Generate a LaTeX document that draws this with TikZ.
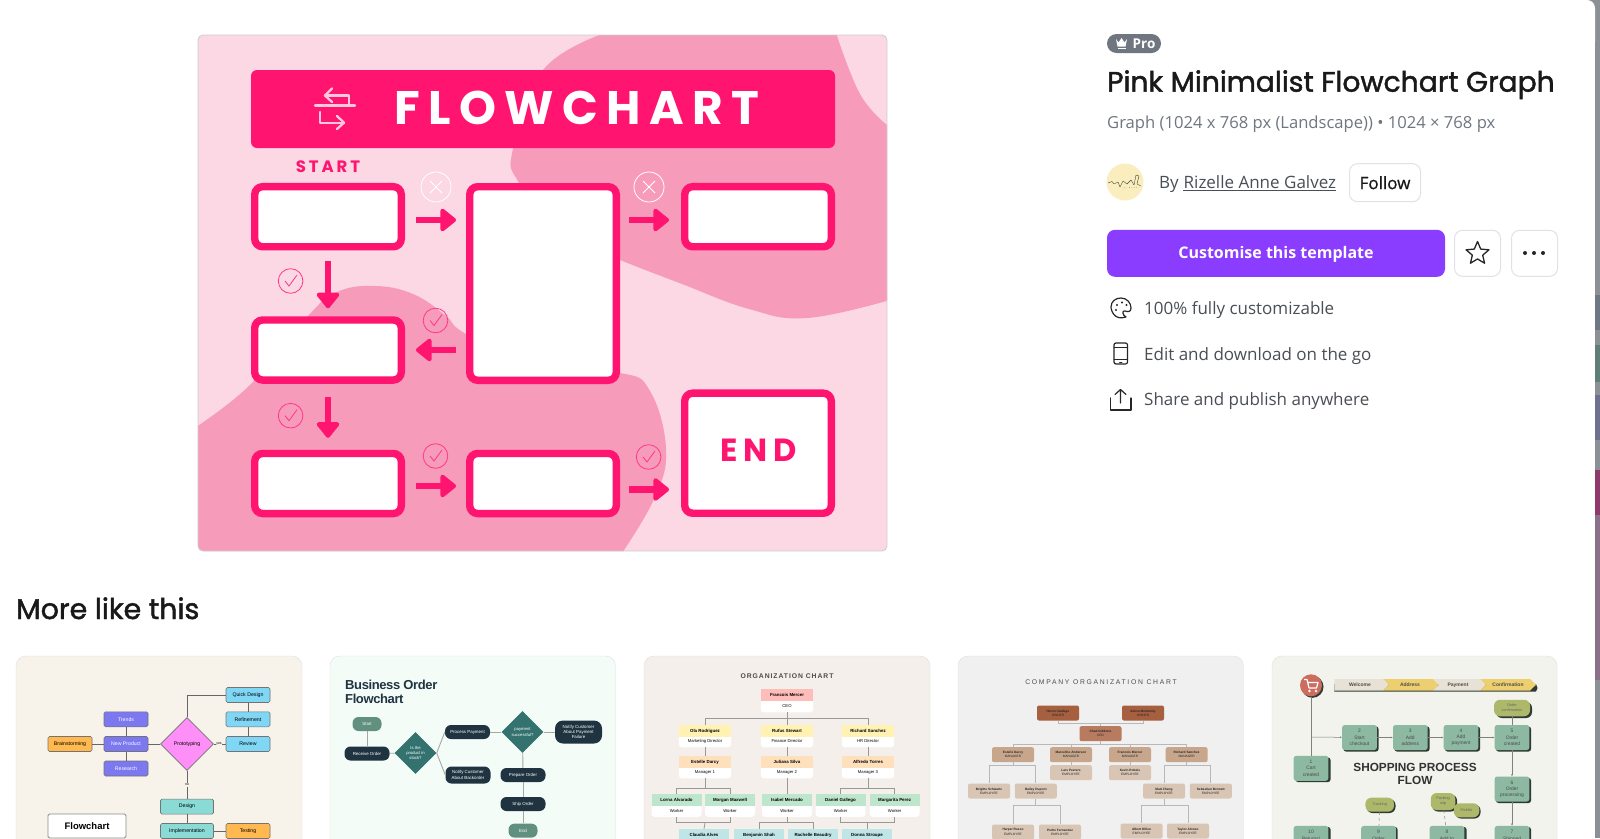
\documentclass[tikz,border=0pt]{standalone}
\usepackage{fontspec}
\setmainfont{Open Sans}
\newfontfamily\popfont{Poppins}
\newfontfamily\libfont{Liberation Sans}
\usetikzlibrary{arrows.meta}
\usetikzlibrary{shapes.geometric}
\usetikzlibrary{calc}
\usetikzlibrary{positioning}

\definecolor{hotpink}{HTML}{FF1470}
\definecolor{blobpink}{HTML}{F79BBB}
\definecolor{palepink}{HTML}{FCD7E4}
\definecolor{iconpink}{HTML}{FFC8DC}
\definecolor{uigray}{HTML}{6F7680}
\definecolor{uidark}{HTML}{4A4F55}
\definecolor{uiline}{HTML}{E0E2E5}
\definecolor{uipurple}{HTML}{8B3DFF}
\definecolor{darkslate}{HTML}{1F3440}
\definecolor{sagegreen}{HTML}{629080}
\definecolor{deepteal}{HTML}{33726F}
\definecolor{mossbox}{HTML}{8DB8A2}
\definecolor{mosspill}{HTML}{AEB86A}
\definecolor{mossdark}{HTML}{2E3B35}
\definecolor{cardpurple}{HTML}{7B78F0}
\definecolor{cardcyan}{HTML}{7FD6F5}
\definecolor{cardorange}{HTML}{FFB950}
\definecolor{cardmint}{HTML}{8ADBD5}
\definecolor{cardviolet}{HTML}{FF8FF8}
\definecolor{orgred}{HTML}{FFBDBA}
\definecolor{orgyellow}{HTML}{FFF2B3}
\definecolor{orgorange}{HTML}{FFE0BC}
\definecolor{orggreen}{HTML}{BEE6CC}
\definecolor{orgblue}{HTML}{BFE5E6}
\definecolor{brownone}{HTML}{A65F3F}
\definecolor{browntwo}{HTML}{B97B60}
\definecolor{brownthree}{HTML}{C8A68C}
\definecolor{brownfour}{HTML}{D9C5B3}
\definecolor{chevbeige}{HTML}{E8E2D6}
\definecolor{chevyellow}{HTML}{EECF70}
\definecolor{cardcream}{HTML}{F8F3EA}
\definecolor{cardmintbg}{HTML}{F4FCF8}
\definecolor{cardsand}{HTML}{F4EFEA}
\definecolor{cardgray}{HTML}{F0F0F0}
\definecolor{cardmoss}{HTML}{F1F3EC}
\definecolor{avataryellow}{HTML}{FBEEBE}
\definecolor{cartred}{HTML}{CC6D5F}
\definecolor{barbase}{HTML}{8A9094}
\definecolor{barslate}{HTML}{6E7885}
\definecolor{bargreen}{HTML}{5F7F76}
\definecolor{barviolet}{HTML}{6F6F90}
\definecolor{barmagenta}{HTML}{8F3A6D}
\definecolor{barmauve}{HTML}{8C6F88}

\tikzset{
	flowbox/.style={draw=hotpink, line width=7.4pt, fill=white, rounded corners=8pt, inner sep=0pt, minimum width=146.6pt, minimum height=60.1pt},
	flowarrow/.style={draw=hotpink, line width=6.5pt, -{Triangle[length=17pt,width=26pt,round]}},
	crossring/.style={draw=white, line width=0.8pt},
	checkring/.style={draw=hotpink!85, line width=0.8pt},
	uibutton/.style={draw=uiline, line width=1pt, fill=white, rounded corners=8pt, inner sep=0pt},
	uitext/.style={anchor=base west, inner sep=0pt, text=uidark, font=\fontsize{17}{20}\selectfont},
	icon/.style={draw=black!85, line width=1.2pt, line join=round, line cap=round},
	bannericon/.style={draw=iconpink, line width=2.3pt, line join=round, line cap=round},
	tinybox/.style={draw=black!55, line width=0.6pt, rounded corners=1.5pt, inner sep=0pt, minimum width=44pt, minimum height=15pt, font=\libfont\fontsize{5.2}{6}\selectfont},
	purplebox/.style={tinybox, fill=cardpurple, text=white},
	cyanbox/.style={tinybox, fill=cardcyan},
	orangebox/.style={tinybox, fill=cardorange},
	mintbox/.style={tinybox, fill=cardmint, minimum width=53pt},
	cardline/.style={draw=black!60, line width=0.6pt},
	slatepill/.style={fill=darkslate, text=white, rounded corners=6pt, inner sep=0pt, minimum width=45pt, minimum height=14pt, align=center, font=\libfont\fontsize{4.4}{5.4}\selectfont},
	sagepill/.style={slatepill, fill=sagegreen, minimum width=29pt},
	tealdiamond/.style={diamond, fill=deepteal, text=white, inner sep=0pt, minimum width=42pt, minimum height=42pt, align=center, font=\libfont\fontsize{4.2}{5.4}\selectfont},
	softline/.style={draw=black!35, line width=0.9pt},
	orghead/.style={inner sep=0pt, minimum width=52.4pt, minimum height=11.7pt, font=\libfont\bfseries\fontsize{4.4}{5}\selectfont},
	orgfoot/.style={fill=white, rounded corners=3pt, inner sep=0pt, minimum width=52.4pt, minimum height=12.5pt, font=\libfont\fontsize{4.2}{5}\selectfont},
	orgline/.style={draw=black!40, line width=0.8pt},
	compline/.style={draw=black!28, line width=0.9pt},
	brownbox/.style={rounded corners=2pt, inner sep=0pt, minimum width=42pt, minimum height=15pt, align=center, text=black!85, font=\libfont\fontsize{3.2}{4.2}\selectfont},
	mossnode/.style={fill=mossbox, rounded corners=2.5pt, inner sep=0pt, minimum width=34.6pt, minimum height=25pt, align=center, text=black!70, font=\libfont\fontsize{4.9}{6.2}\selectfont},
	mossround/.style={fill=mosspill, rounded corners=6pt, inner sep=0pt, minimum height=14pt, align=center, text=black!60, font=\libfont\fontsize{3.8}{5}\selectfont},
	mossshadow/.style={fill=mossdark, rounded corners=2.5pt},
	chevtext/.style={inner sep=0pt, text=black!70, font=\libfont\bfseries\fontsize{5}{6}\selectfont},
	mossline/.style={draw=black!50, line width=0.5pt, -{Latex[length=2pt,width=2pt]}}
}

\begin{document}
\begin{tikzpicture}[x=1pt, y=-1pt]
	\clip (0,0) rectangle (1600,838);
	\fill[white] (0,0) rectangle (1600,838);

	% scrollbar strip
	\fill[barbase] (1585,0) rectangle (1600,20);
	\fill[barbase] (1595,0) rectangle (1600,838);
	\fill[barslate] (1595,295) rectangle (1600,330);
	\fill[bargreen] (1595,345) rectangle (1600,382);
	\fill[barviolet] (1595,395) rectangle (1600,440);
	\fill[barmagenta] (1595,470) rectangle (1600,515);
	\fill[barmauve] (1595,515) rectangle (1600,680);
	\fill[white, rounded corners=8pt] (1500,0) rectangle (1595,50);

	% template card
	\begin{scope}
		\clip[rounded corners=5pt] (198,35) rectangle (887,551);
		\fill[palepink] (198,35) rectangle (887,551);
		\fill[blobpink] plot[smooth, tension=0.7] coordinates {(605,33) (543,70) (513,149) (519,183) (560,235) (620,260) (682,284) (749,309) (807,318) (890,300)} -- (890,125) -- plot[smooth, tension=0.7] coordinates {(887,125) (860,94) (836,33)} -- cycle;
		\fill[blobpink] plot[smooth, tension=0.7] coordinates {(196,427) (251,384) (308,316) (337,292) (375,286) (413,294) (445,315) (466,334) (540,370) (620,373) (650,391) (666,449) (655,497) (622,553)} -- (196,553) -- cycle;
	\end{scope}
	\draw[black!20, line width=0.8pt, rounded corners=5pt] (198,35) rectangle (887,551);

	\node[fill=hotpink, rounded corners=6pt, minimum width=584pt, minimum height=78pt, inner sep=0pt] (banner) at (543,109) {};
	\node[text=white, inner sep=0pt, font=\popfont\bfseries\fontsize{47}{50}\selectfont\addfontfeature{LetterSpace=18}] (flowtitle) at (577,108) {FLOWCHART};
	\draw[bannericon] (315,105.5) -- (355,105.5);
	\draw[bannericon] (349,105.5) -- (349,95.5) -- (325,95.5);
	\draw[bannericon] (332,88.5) -- (325,95.5) -- (332,102);
	\draw[bannericon] (320,112) -- (320,122.7) -- (344,122.7);
	\draw[bannericon] (337,116) -- (344,122.7) -- (337,129);

	\node[text=hotpink, inner sep=0pt, font=\popfont\bfseries\fontsize{16.5}{18}\selectfont\addfontfeature{LetterSpace=18}] (start) at (328,166.5) {START};

	\node[flowbox] (box1) at (328,216.7) {};
	\node[flowbox, minimum height=193.6pt] (box2) at (543,283.5) {};
	\node[flowbox] (box3) at (758,216.7) {};
	\node[flowbox] (box4) at (328,350) {};
	\node[flowbox] (box5) at (328,483.5) {};
	\node[flowbox] (box6) at (543,483.5) {};
	\node[flowbox, minimum height=120.1pt] (boxend) at (758,453.2) {};
	\node[text=hotpink, inner sep=0pt, font=\popfont\bfseries\fontsize{32}{34}\selectfont\addfontfeature{LetterSpace=18}] (endtext) at (758.5,450.5) {END};

	\draw[flowarrow, shorten <=11pt, shorten >=10pt] ([yshift=-3.3pt]box1.east) -- ([yshift=-3.3pt]box1.east -| box2.west);
	\draw[flowarrow, shorten <=9pt, shorten >=12pt] ([yshift=-3.3pt]box3.west -| box2.east) -- ([yshift=-3.3pt]box3.west);
	\draw[flowarrow, shorten <=11pt, shorten >=8pt] (box1.south) -- (box4.north);
	\draw[flowarrow, shorten <=13pt, shorten >=12pt] (box4.south) -- (box5.north);
	\draw[flowarrow, shorten <=10pt, shorten >=11pt] (box2.west |- box4.east) -- (box4.east);
	\draw[flowarrow, shorten <=11pt, shorten >=10pt] ([yshift=-2.5pt]box5.east) -- ([yshift=-2.5pt]box6.west);
	\draw[flowarrow, shorten <=9pt, shorten >=12pt] ([yshift=-6pt]box6.east) -- ([yshift=-6pt]box6.east -| boxend.west);

	% cross and check marks
	\draw[crossring] (436,187) circle (15);
	\draw[crossring] (430,181) -- (442,193) (442,181) -- (430,193);
	\draw[crossring] (649,187) circle (15);
	\draw[crossring] (643,181) -- (655,193) (655,181) -- (643,193);
	\draw[checkring] (290.6,281) circle (12.3);
	\draw[checkring] (285,281) -- (289,286) -- (297,275);
	\draw[checkring] (435.5,320.5) circle (12.3);
	\draw[checkring] (430,320.5) -- (434,325.5) -- (442,314.5);
	\draw[checkring] (290.6,415.7) circle (12.3);
	\draw[checkring] (285,415.7) -- (289,420.7) -- (297,409.7);
	\draw[checkring] (435.5,456) circle (12.3);
	\draw[checkring] (430,456) -- (434,461) -- (442,450);
	\draw[checkring] (648.6,457) circle (12.3);
	\draw[checkring] (643,457) -- (647,462) -- (655,451);

	% right panel
	\node[fill=uigray, rounded corners=9.5pt, minimum width=54pt, minimum height=19pt, inner sep=0pt] (probadge) at (1134,43.5) {};
	\fill[white] (1116,39) -- (1118.5,42.5) -- (1121.5,38) -- (1124.5,42.5) -- (1127,39) -- (1125.5,46.5) -- (1117.5,46.5) -- cycle;
	\fill[white] (1117.5,47.5) rectangle (1125.5,49);
	\node[text=white, inner sep=0pt, anchor=base west, font=\fontsize{13.5}{15}\selectfont\bfseries] (protext) at (1132.5,48.5) {Pro};
	\node[anchor=base west, inner sep=0pt, text=black!90, font=\popfont\fontsize{28.2}{30}\selectfont\addfontfeature{FakeBold=1.6}] (pagetitle) at (1107,91.7) {Pink Minimalist Flowchart Graph};
	\node[uitext, text=uigray, font=\fontsize{16.6}{20}\selectfont] (subtitle) at (1107,128) {Graph (1024 x 768 px (Landscape)) • 1024 × 768 px};

	\fill[avataryellow] (1125,182) circle (18.5);
	\draw[black!75, line width=0.4pt, line join=round] (1108,183) -- (1112,181.5) -- (1114,184) -- (1118,182) -- (1120,187) -- (1123,181) -- (1127,184) -- (1131,180) -- (1134,185) -- (1136,175) -- (1139,176) -- (1137,184) -- (1141,186);
	\draw[black!75, line width=0.4pt, dotted] (1122,188) -- (1140,187);

	\node[uitext] (byline) at (1159,188) {By};
	\node[uitext, right=4.5pt of byline.base east, anchor=base west, inner sep=0pt] (author) {Rizelle Anne Galvez};
	\draw[uidark, line width=0.7pt] ([yshift=-2.5pt]author.base west) -- ([yshift=-2.5pt]author.base east);
	\node[uibutton, minimum width=71pt, minimum height=38pt, font=\fontsize{17}{20}\selectfont\addfontfeature{FakeBold=0.8}, text=black!90] (follow) at (1385,182.7) {Follow};

	\node[fill=uipurple, rounded corners=8pt, minimum width=338pt, minimum height=47pt, inner sep=0pt] (customise) at (1276,253.3) {};
	\node[inner sep=0pt, text=white, font=\fontsize{16}{20}\selectfont\bfseries] (customtext) at (1276,254.5) {Customise this template};
	\node[uibutton, minimum width=46pt, minimum height=46pt] (starbtn) at (1477.5,253.3) {};
	\node[star, star points=5, star point ratio=2.2, draw=black!85, line width=1.3pt, line join=round, inner sep=0pt, minimum size=24pt] (staricon) at (1477.5,253.5) {};
	\node[uibutton, minimum width=46pt, minimum height=46pt] (morebtn) at (1534.5,253.3) {};
	\fill[black!85] (1525,253) circle (2) (1534,253) circle (2) (1543,253) circle (2);

	\draw[icon] (1126,317) .. controls (1114,321) and (1111,310) .. (1111,307) .. controls (1111,301) and (1116,298) .. (1121,298) .. controls (1127,298) and (1131,303) .. (1131,308) .. controls (1131,312) and (1128,312) .. (1125,311) .. controls (1122,310) and (1122,315) .. (1126,317) -- cycle;
	\fill[black!85] (1117,305) circle (1.2) (1122,302.5) circle (1.2) (1126.5,305) circle (1.2) (1116,310) circle (1.2);
	\node[uitext] (feature1) at (1144,314) {100\% fully customizable};
	\draw[icon, rounded corners=2pt] (1114,343) rectangle (1127.5,364);
	\draw[icon, line width=0.9pt] (1114,347) -- (1127.5,347) (1114,359.5) -- (1127.5,359.5) (1119.5,362) -- (1122,362);
	\node[uitext] (feature2) at (1144,360) {Edit and download on the go};
	\draw[icon] (1110.5,398) -- (1110.5,410) -- (1131,410) -- (1131,398);
	\draw[icon] (1120.5,403) -- (1120.5,389.5) (1115,394.5) -- (1120.5,389.5) -- (1126,394.5);
	\node[uitext] (feature3) at (1144,405) {Share and publish anywhere};

	\node[anchor=base west, inner sep=0pt, text=black!90, font=\popfont\fontsize{28.5}{30}\selectfont\addfontfeature{FakeBold=1.6}] (morelike) at (16,619) {More like this};

	% bottom cards
	\draw[black!12, fill=cardcream, rounded corners=10pt] (16,656) rectangle (302,860);
	\draw[black!12, fill=cardmintbg, rounded corners=10pt] (330,656) rectangle (615.5,860);
	\draw[black!12, fill=cardsand, rounded corners=10pt] (644,656) rectangle (930,860);
	\draw[black!12, fill=cardgray, rounded corners=10pt] (958,656) rectangle (1243.5,860);
	\draw[black!12, fill=cardmoss, rounded corners=10pt] (1272,656) rectangle (1557,860);

	% card 1
	\node[cyanbox] (quick) at (248,695) {Quick Design};
	\node[cyanbox] (refine) at (248,719.3) {Refinement};
	\node[cyanbox] (review) at (248,744) {Review};
	\node[purplebox] (trends) at (126,719.3) {Trends};
	\node[purplebox] (newprod) at (126,744) {New Product};
	\node[purplebox] (research) at (126,768.5) {Research};
	\node[orangebox] (brain) at (70,744) {Brainstorming};
	\node[diamond, draw=black!55, line width=0.6pt, fill=cardviolet, inner sep=0pt, minimum width=53pt, minimum height=53pt, font=\libfont\fontsize{5.2}{6}\selectfont] (proto) at (187,744) {Prototyping};
	\node[mintbox] (design) at (187,806.6) {Design};
	\node[mintbox] (implement) at (187,831) {Implementation};
	\node[orangebox] (testing) at (248,831) {Testing};
	\node[draw=black!45, line width=0.8pt, fill=white, rounded corners=1.5pt, inner sep=0pt, minimum width=78pt, minimum height=24pt, font=\libfont\bfseries\fontsize{9.5}{11}\selectfont] (flowlabel) at (87,826) {Flowchart};
	\node[inner sep=0.5pt, fill=cardcream, font=\libfont\fontsize{3.5}{4}\selectfont] (nolabel) at (187,785) {no};
	\node[inner sep=0.5pt, fill=cardcream, font=\libfont\fontsize{3.5}{4}\selectfont] (yeslabel) at (219,744) {yes};
	\draw[cardline] (proto.north) |- (quick.west);
	\draw[cardline] (review) -- (refine);
	\draw[cardline] (refine) -- (quick);
	\draw[cardline] (trends) -- (newprod);
	\draw[cardline] (research) -- (newprod);
	\draw[cardline] (brain) -- (newprod);
	\draw[cardline] (newprod) -- (proto);
	\draw[cardline] (proto) -- (yeslabel);
	\draw[cardline] (yeslabel) -- (review);
	\draw[cardline] (proto) -- (nolabel);
	\draw[cardline] (nolabel) -- (design);
	\draw[cardline] (design) -- (implement);
	\draw[cardline] (implement) -- (testing);

	% card 2
	\begin{scope}[xshift=-1.5pt]
	\node[anchor=north west, inner sep=0pt, align=left, text=darkslate, font=\libfont\bfseries\fontsize{13}{13.5}\selectfont\addfontfeature{LetterSpace=-3}] (bizorder) at (346.5,680) {Business Order\\Flowchart};
	\node[sagepill] (bstart) at (368.5,724) {Start};
	\node[slatepill] (receive) at (368.5,753.5) {Receive Order};
	\node[tealdiamond] (stock) at (417,753) {Is the\\product in\\stock?};
	\node[slatepill] (payment) at (469,732) {Process Payment};
	\node[slatepill, minimum height=17pt] (backorder) at (469.5,775) {Notify Customer\\About Backorder};
	\node[tealdiamond] (paid) at (524,732) {payment\\successful?};
	\node[slatepill, minimum width=47pt, minimum height=23pt, rounded corners=8pt] (failure) at (580,732) {Notify Customer\\About Payment\\Failure};
	\node[slatepill] (prepare) at (524.5,775) {Prepare Order};
	\node[slatepill] (ship) at (524.5,804) {Ship Order};
	\node[sagepill] (bend) at (524.5,830.6) {End};
	\draw[softline] (bstart) -- (receive);
	\draw[softline] (receive) -- (stock);
	\draw[softline] (stock.east) -- (payment.west);
	\draw[softline] (stock.east) -- (backorder.west);
	\draw[softline] (payment) -- (paid);
	\draw[softline] (paid) -- (failure);
	\draw[softline] (paid) -- (prepare);
	\draw[softline] (prepare) -- (ship);
	\draw[softline] (ship) -- (bend);
	\end{scope}

	% card 3
	\begin{scope}[xshift=-1pt]
	\node[text=black!70, inner sep=0pt, font=\libfont\bfseries\fontsize{6.8}{7}\selectfont\addfontfeature{LetterSpace=14}] (orgtitle) at (788,675.7) {ORGANIZATION CHART};
	\coordinate (orgj1) at (788,718.6);
	\coordinate (orgj2) at (706,788);
	\coordinate (orgj3) at (869,788);
	\coordinate (orgj4) at (706,822.7);
	\coordinate (orgj5) at (788,822.7);
	\coordinate (orgj6) at (868,822.7);
	\node[orgfoot] (ceof) at (788,706) {CEO};
	\node[orghead, fill=orgred] (ceoh) at (788,695.3) {Francois Mercer};
	\node[orgfoot] (olaf) at (706,741) {Marketing Director};
	\node[orghead, fill=orgyellow] (olah) at (706,731) {Ola Rodriguez};
	\node[orgfoot] (rufusf) at (788,741) {Finance Director};
	\node[orghead, fill=orgyellow] (rufush) at (788,731) {Rufus Stewart};
	\node[orgfoot] (richf) at (869,741) {HR Director};
	\node[orghead, fill=orgyellow] (richh) at (869,731) {Richard Sanchez};
	\node[orgfoot] (estf) at (706,772) {Manager 1};
	\node[orghead, fill=orgorange] (esth) at (706,762) {Estelle Darcy};
	\node[orgfoot] (julf) at (788,772) {Manager 2};
	\node[orghead, fill=orgorange] (julh) at (788,762) {Juliana Silva};
	\node[orgfoot] (alff) at (869,772) {Manager 3};
	\node[orghead, fill=orgorange] (alfh) at (869,762) {Alfredo Torres};
	\node[orgfoot, minimum width=50pt] (lorf) at (677.5,810.5) {Worker};
	\node[orghead, minimum width=50pt, fill=orggreen] (lorh) at (677.5,800.2) {Lorna Alvarado};
	\node[orgfoot, minimum width=50pt] (morf) at (731,810.5) {Worker};
	\node[orghead, minimum width=50pt, fill=orggreen] (morh) at (731,800.2) {Morgan Maxwell};
	\node[orgfoot, minimum width=50pt] (isaf) at (788,810.5) {Worker};
	\node[orghead, minimum width=50pt, fill=orggreen] (isah) at (788,800.2) {Isabel Mercado};
	\node[orgfoot, minimum width=50pt] (danf) at (841.5,810.5) {Worker};
	\node[orghead, minimum width=50pt, fill=orggreen] (danh) at (841.5,800.2) {Daniel Gallego};
	\node[orgfoot, minimum width=50pt] (marf) at (895.6,810.5) {Worker};
	\node[orghead, minimum width=50pt, fill=orggreen] (marh) at (895.6,800.2) {Margarita Perez};
	\node[orghead, minimum width=50pt, fill=orgblue] (clah) at (705,835) {Claudia Alves};
	\node[orghead, minimum width=50pt, fill=orgblue] (benh) at (760,835) {Benjamin Shah};
	\node[orghead, minimum width=50pt, fill=orgblue] (rach) at (814,835) {Rachelle Beaudry};
	\node[orghead, minimum width=50pt, fill=orgblue] (donh) at (868,835) {Donna Stroupe};
	\draw[orgline] (ceof.south) -- (orgj1);
	\draw[orgline] (orgj1) -| (olah.north);
	\draw[orgline] (orgj1) -- (rufush.north);
	\draw[orgline] (orgj1) -| (richh.north);
	\draw[orgline] (olaf.south) -- (esth.north);
	\draw[orgline] (rufusf.south) -- (julh.north);
	\draw[orgline] (richf.south) -- (alfh.north);
	\draw[orgline] (estf.south) -- (orgj2);
	\draw[orgline] (orgj2) -| (lorh.north);
	\draw[orgline] (orgj2) -| (morh.north);
	\draw[orgline] (julf.south) -- (isah.north);
	\draw[orgline] (alff.south) -- (orgj3);
	\draw[orgline] (orgj3) -| (danh.north);
	\draw[orgline] (orgj3) -| (marh.north);
	\draw[orgline] (lorf.south) |- (orgj4);
	\draw[orgline] (morf.south) |- (orgj4);
	\draw[orgline] (orgj4) -- (clah.north);
	\draw[orgline] (isaf.south) -- (orgj5);
	\draw[orgline] (orgj5) -| (benh.north);
	\draw[orgline] (orgj5) -| (rach.north);
	\draw[orgline] (danf.south) |- (orgj6);
	\draw[orgline] (marf.south) |- (orgj6);
	\draw[orgline] (orgj6) -- (donh.north);
	\end{scope}

	% card 4
	\begin{scope}[xshift=-2pt]
	\node[text=black!70, inner sep=0pt, font=\libfont\fontsize{6.8}{7}\selectfont\addfontfeature{LetterSpace=25}] (comptitle) at (1103,682.3) {COMPANY ORGANIZATION CHART};
	\coordinate (compj1) at (1102.5,723.3);
	\coordinate (compj2) at (1102.5,744);
	\coordinate (compj3) at (1015,765);
	\coordinate (compj4) at (1188.6,765);
	\coordinate (compj5) at (1037.8,805);
	\coordinate (compj6) at (1166,805);
	\node[brownbox, fill=brownone] (hector) at (1060,713) {\textbf{Hector Gallego}\\OWNER};
	\node[brownbox, fill=brownone] (adora) at (1145,713) {\textbf{Adora Montminy}\\OWNER};
	\node[brownbox, fill=browntwo] (chad) at (1102.5,733.7) {\textbf{Chad Gibbons}\\CEO};
	\node[brownbox, fill=brownthree] (estelle) at (1015,754.7) {\textbf{Estelle Darcy}\\MANAGER};
	\node[brownbox, fill=brownthree] (marceline) at (1073,754.7) {\textbf{Marceline Anderson}\\MANAGER};
	\node[brownbox, fill=brownthree] (francois) at (1132,754.7) {\textbf{Francois Mercer}\\MANAGER};
	\node[brownbox, fill=brownthree] (richard) at (1188.6,754.7) {\textbf{Richard Sanchez}\\MANAGER};
	\node[brownbox, fill=brownfour] (lars) at (1073,772.7) {\textbf{Lars Peeters}\\EMPLOYEE};
	\node[brownbox, fill=brownfour] (kevin) at (1132,772.7) {\textbf{Kevin Robels}\\EMPLOYEE};
	\node[brownbox, fill=brownfour] (brigitte) at (991,791) {\textbf{Brigitte Schwartz}\\EMPLOYEE};
	\node[brownbox, fill=brownfour] (bailey) at (1037.8,791) {\textbf{Bailey Dupont}\\EMPLOYEE};
	\node[brownbox, fill=brownfour] (matt) at (1166,791) {\textbf{Matt Zhang}\\EMPLOYEE};
	\node[brownbox, fill=brownfour] (sebastian) at (1212.8,791) {\textbf{Sebastian Bennett}\\EMPLOYEE};
	\node[brownbox, fill=brownfour] (harper) at (1015,832) {\textbf{Harper Russo}\\EMPLOYEE};
	\node[brownbox, fill=brownfour] (pedro) at (1062,832) {\textbf{Pedro Fernandez}\\EMPLOYEE};
	\node[brownbox, fill=brownfour] (albert) at (1143.5,831) {\textbf{Albert Dillon}\\EMPLOYEE};
	\node[brownbox, fill=brownfour] (taylor) at (1190,831) {\textbf{Taylor Alonso}\\EMPLOYEE};
	\draw[compline] (hector.south) |- (compj1);
	\draw[compline] (adora.south) |- (compj1);
	\draw[compline] (compj1) -- (chad.north);
	\draw[compline] (chad.south) -- (compj2);
	\draw[compline] (compj2) -| (estelle.north);
	\draw[compline] (compj2) -| (marceline.north);
	\draw[compline] (compj2) -| (francois.north);
	\draw[compline] (compj2) -| (richard.north);
	\draw[compline] (marceline.south) -- (lars.north);
	\draw[compline] (francois.south) -- (kevin.north);
	\draw[compline] (estelle.south) -- (compj3);
	\draw[compline] (compj3) -| (brigitte.north);
	\draw[compline] (compj3) -| (bailey.north);
	\draw[compline] (richard.south) -- (compj4);
	\draw[compline] (compj4) -| (matt.north);
	\draw[compline] (compj4) -| (sebastian.north);
	\draw[compline] (bailey.south) -- (compj5);
	\draw[compline] (compj5) -| (harper.north);
	\draw[compline] (compj5) -| (pedro.north);
	\draw[compline] (matt.south) -- (compj6);
	\draw[compline] (compj6) -| (albert.north);
	\draw[compline] (compj6) -| (taylor.north);
	\end{scope}

	% card 5
	\coordinate (shopj1) at (1311,737);
	\fill[mossdark] (1312.5,686.8) circle (11);
	\node[circle, fill=cartred, inner sep=0pt, minimum size=22pt] (cart) at (1311,685.3) {};
	\draw[white, line width=1.2pt, line join=round] (1304,679.5) -- (1307,679.5) -- (1309,688) -- (1316.5,688) -- (1318,682.5) -- (1308,682.5);
	\fill[white] (1309.5,691) circle (1.4) (1316,691) circle (1.4);

	\fill[mossdark] (1334.3,691.5) -- (1536,691.5) -- (1537.5,688) -- (1536,684) -- (1334.3,684) -- cycle;
	\fill[chevbeige] (1334.3,679) -- (1383,679) -- (1389,684.8) -- (1383,690.5) -- (1334.3,690.5) -- cycle;
	\fill[chevyellow] (1383,679) -- (1433,679) -- (1439,684.8) -- (1433,690.5) -- (1383,690.5) -- (1389,684.8) -- cycle;
	\fill[chevbeige] (1433,679) -- (1480,679) -- (1486,684.8) -- (1480,690.5) -- (1433,690.5) -- (1439,684.8) -- cycle;
	\fill[chevyellow] (1480,679) -- (1530,679) -- (1536,684.8) -- (1530,690.5) -- (1480,690.5) -- (1486,684.8) -- cycle;
	\node[chevtext] (welcome) at (1360,685) {Welcome};
	\node[chevtext] (address) at (1410,685) {Address};
	\node[chevtext] (pay) at (1458,685) {Payment};
	\node[chevtext] (confirm) at (1508,685) {Confirmation};

	\node[anchor=center, inner sep=0pt, align=center, text=black!80, font=\libfont\bfseries\fontsize{11.8}{13}\selectfont] (shoptitle) at (1415,774) {SHOPPING PROCESS\\FLOW};

	\fill[mossshadow] (1343.5,726.5) rectangle (1378.5,751.5);
	\fill[mossshadow] (1394.5,726.5) rectangle (1429.5,751.5);
	\fill[mossshadow] (1445,726.5) rectangle (1480,751.5);
	\fill[mossshadow] (1496,726.5) rectangle (1531,751.5);
	\fill[mossshadow] (1295.5,757.5) rectangle (1330.5,782);
	\fill[mossshadow] (1496,778) rectangle (1531,803);
	\fill[mossshadow] (1496,827) rectangle (1531,852);
	\fill[mossshadow] (1431.5,827) rectangle (1466.5,852);
	\fill[mossshadow] (1362.5,827) rectangle (1397.5,852);
	\fill[mossshadow] (1295.5,827) rectangle (1330.5,852);
	\fill[mossshadow, rounded corners=6pt] (1496,702) rectangle (1532,718);
	\fill[mossshadow, rounded corners=6pt] (1366.5,799) rectangle (1395.5,813);
	\fill[mossshadow, rounded corners=6pt] (1432,794.5) rectangle (1457,811.5);
	\fill[mossshadow, rounded corners=6pt] (1455,804.5) rectangle (1480.5,818.5);

	\node[mossnode] (cartbox) at (1311,768.3) {1\\Cart\\created};
	\node[mossnode] (checkout) at (1359.5,737.5) {2\\Start\\checkout};
	\node[mossnode] (addaddr) at (1410.3,737.5) {3\\Add\\address};
	\node[mossnode] (addpay) at (1461,737.5) {4\\Add\\payment};
	\node[mossnode] (created) at (1512,737.5) {5\\Order\\created};
	\node[mossnode] (process) at (1512,789) {6\\Order\\processing};
	\node[mossnode, anchor=north] (shipped) at (1512,825.7) {7\\Shipped\\};
	\node[mossnode, anchor=north] (addto) at (1447,825.7) {8\\Add to\\};
	\node[mossnode, anchor=north] (ordered) at (1378.5,825.7) {9\\Order\\};
	\node[mossnode, anchor=north] (returns) at (1311,825.7) {10\\Returns/\\};
	\node[mossround, minimum width=36pt, minimum height=16.5pt] (orderpill) at (1512,708) {Order\\confirmation};
	\node[mossround, minimum width=28.5pt] (trackpill) at (1379.7,804.7) {Tracking};
	\node[mossround, minimum width=24.5pt, minimum height=17pt] (packpill) at (1443,801.5) {Packing\\slip};
	\node[mossround, minimum width=25.5pt] (pickpill) at (1466.5,810.3) {Picklist};
	\draw[draw=black!50, line width=0.5pt] (cart) -- (cartbox);
	\draw[mossline] (shopj1) -- (checkout);
	\draw[mossline] (checkout) -- (addaddr);
	\draw[mossline] (addaddr) -- (addpay);
	\draw[mossline] (addpay) -- (created);
	\draw[draw=black!50, line width=0.5pt] (orderpill) -- (created);
	\draw[mossline] (created) -- (process);
	\draw[mossline] (process) -- (shipped);
	\draw[black!50, line width=0.5pt, dashed] (trackpill) -- (ordered);
	\draw[black!50, line width=0.5pt, dashed] (packpill) -- (addto);
\end{tikzpicture}
\end{document}
